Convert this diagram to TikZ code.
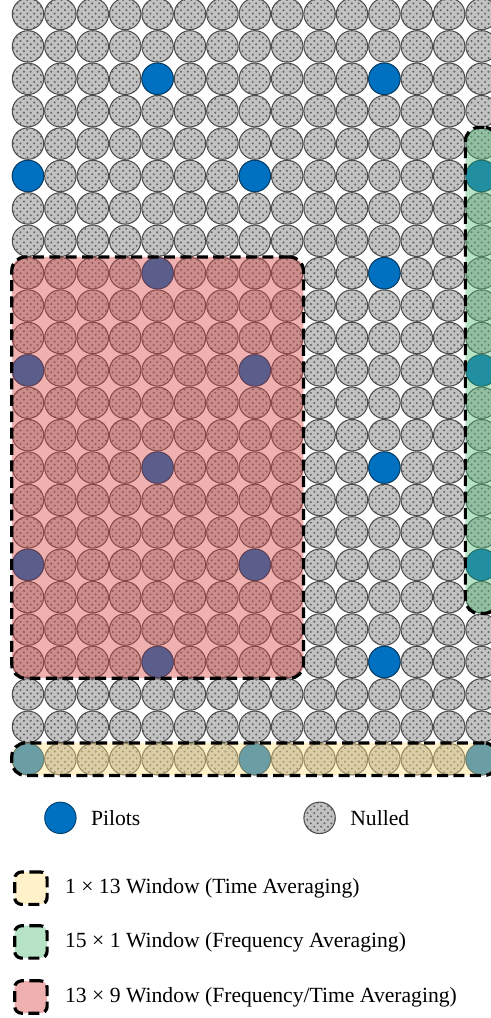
\documentclass[tikz,border=0pt]{standalone}
\usepackage{fontspec}
\setmainfont{Liberation Serif}
\usetikzlibrary{positioning,fit,patterns}

\definecolor{pilotblue}{RGB}{0,112,192}
\definecolor{winyellow}{RGB}{255,222,127}
\definecolor{wingreen}{RGB}{80,187,117}
\definecolor{winred}{RGB}{217,67,67}

\begin{document}
\begin{tikzpicture}[
        x=0.5cm, y=-0.5cm,
        every node/.style={font=\fontsize{9.5}{11}\selectfont},
        nulled/.style={circle, draw=black!70, line width=0.45pt, minimum size=0.485cm, inner sep=0pt,
            preaction={fill=black!24}, pattern=crosshatch dots, pattern color=black!60},
        pilot/.style={circle, draw=pilotblue!55!black, line width=0.4pt, fill=pilotblue, minimum size=0.485cm, inner sep=0pt},
        window/.style={draw, line width=1.4pt, dash pattern=on 4.8pt off 2.4pt, rounded corners=6pt, fill opacity=0.42, inner sep=0pt},
        legendbox/.style={window, minimum size=0.5cm, rounded corners=3pt}
    ]
        \useasboundingbox (-0.864,-0.432) rectangle (14.290,30.988);
        \clip (-0.864,-0.432) rectangle (14.290,30.988);

        % resource grid
        \foreach \r in {0,...,23}
            \foreach \c in {0,...,14}
                \node[nulled] (g-\r-\c) at (\c,\r) {};

        % pilot positions
        \foreach \r in {2,8,14,20}
            \foreach \c in {4,11}
                \node[pilot] (p-\r-\c) at (g-\r-\c) {};
        \foreach \r in {5,11,17,23}
            \foreach \c in {0,7,14}
                \node[pilot] (p-\r-\c) at (g-\r-\c) {};

        % averaging windows
        \node[window, fill=winred,    fit=(g-8-0)(g-20-8)]   (w-red)    {};
        \node[window, fill=wingreen,  fit=(g-4-14)(g-18-14)] (w-green)  {};
        \node[window, fill=winyellow, fit=(g-23-0)(g-23-14)] (w-yellow) {};

        % legend
        \node[pilot]  (lp) at (1,24.81) {};
        \node[right=0.1cm of lp] (lp-t) {Pilots};
        \node[nulled] (ln) at (9,24.81) {};
        \node[right=0.1cm of ln] (ln-t) {Nulled};

        \node[legendbox, fill=winyellow] (ly) at (0.09,26.98) {};
        \node[right=0.13cm of ly] (ly-t) {1 × 13 Window (Time Averaging)};
        \node[legendbox, fill=wingreen]  (lg) at (0.09,28.64) {};
        \node[right=0.13cm of lg] (lg-t) {15 × 1 Window (Frequency Averaging)};
        \node[legendbox, fill=winred]    (lr) at (0.09,30.34) {};
        \node[right=0.13cm of lr] (lr-t) {13 × 9 Window (Frequency/Time Averaging)};
    \end{tikzpicture}
\end{document}
